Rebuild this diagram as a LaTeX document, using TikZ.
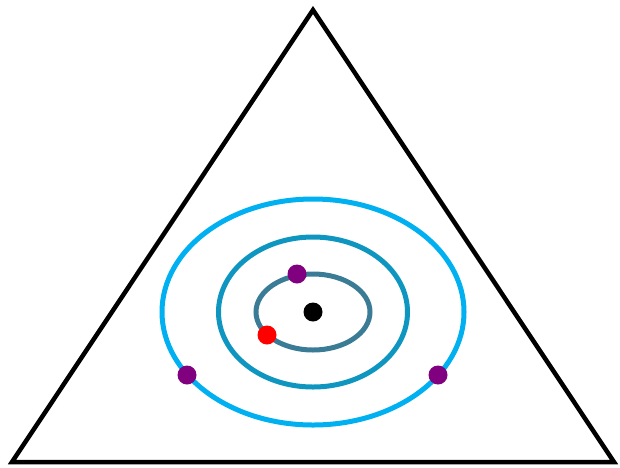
\documentclass[tikz,border=0pt]{standalone}
\definecolor{outerc}{HTML}{00B0F0}
\definecolor{midc}{HTML}{0E96C0}
\definecolor{innerc}{HTML}{3A7C96}
\definecolor{purp}{HTML}{800080}
\begin{document}
\begin{tikzpicture}[x=1pt,y=-1pt,
  tri/.style={draw=black,line width=4.5pt,line join=miter},
  orbit/.style={line width=5pt},
  dotmark/.style={circle,inner sep=0pt,minimum size=19pt}]
\useasboundingbox (0,0) rectangle (620,467);
\coordinate (A) at (313,10);
\coordinate (B) at (12,462);
\coordinate (C) at (614,462);
\draw[tri] (A) -- (B) -- (C) -- cycle;
\coordinate (O) at (313,312);
\draw[orbit,outerc] (O) ellipse [x radius=151, y radius=113];
\draw[orbit,midc] (O) ellipse [x radius=94.5, y radius=75];
\draw[orbit,innerc] (O) ellipse [x radius=57, y radius=38];
\node[dotmark,fill=black] (c) at (313,312) {};
\node[dotmark,fill=purp] (p1) at (297,274) {};
\node[dotmark,fill=red] (r) at (267,335) {};
\node[dotmark,fill=purp] (p2) at (187,375) {};
\node[dotmark,fill=purp] (p3) at (438,375) {};
\end{tikzpicture}
\end{document}
